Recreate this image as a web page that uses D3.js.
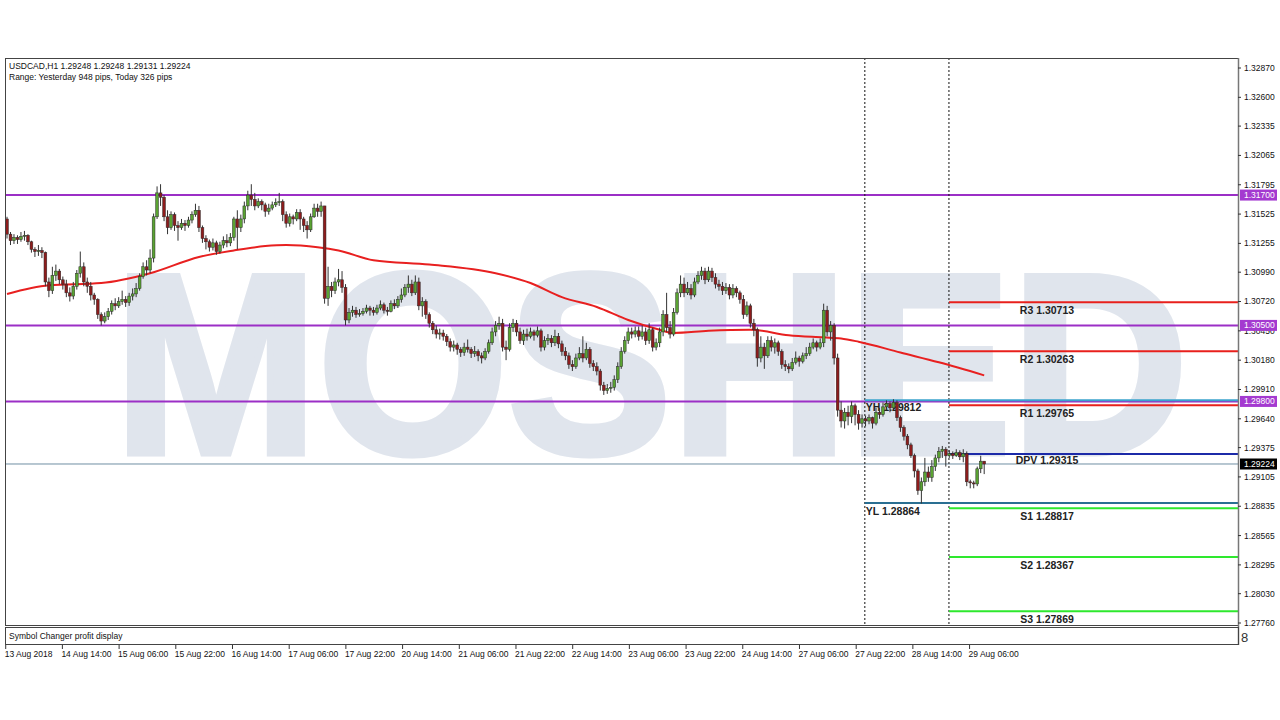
<!DOCTYPE html>
<html>
<head>
<meta charset="utf-8">
<script src="https://cdn.jsdelivr.net/npm/d3@7/dist/d3.min.js"></script>
<style>
  html, body { margin: 0; padding: 0; background: #fff; }
  svg { display: block; font-family: "Liberation Sans", Arial, sans-serif; }
</style>
</head>
<body>
<script>
// ---- data ----
var firstOpen = 1.3148;
var closes = [
  1.3134,1.3128,1.3131,1.3129,1.3132,1.3133,1.3127,1.3120,1.3118,1.3119,
  1.3117,1.3090,1.3082,1.3096,1.3100,1.3092,1.3088,1.3080,1.3077,1.3086,
  1.3098,1.3104,1.3090,1.3086,1.3078,1.3074,1.3060,1.3054,1.3058,1.3063,
  1.3070,1.3068,1.3072,1.3074,1.3071,1.3077,1.3079,1.3084,1.3095,1.3104,
  1.3101,1.3112,1.3150,1.3172,1.3168,1.3150,1.3140,1.3152,1.3142,1.3140,
  1.3144,1.3142,1.3147,1.3152,1.3156,1.3140,1.3130,1.3127,1.3122,1.3126,
  1.3118,1.3124,1.3128,1.3126,1.3131,1.3148,1.3140,1.3148,1.3160,1.3170,
  1.3166,1.3160,1.3164,1.3161,1.3155,1.3158,1.3161,1.3163,1.3164,1.3152,
  1.3144,1.3150,1.3148,1.3154,1.3148,1.3142,1.3138,1.3150,1.3158,1.3155,
  1.3160,1.3075,1.3086,1.3082,1.3090,1.3092,1.3085,1.3055,1.3062,1.3064,
  1.3060,1.3061,1.3063,1.3066,1.3064,1.3062,1.3066,1.3069,1.3064,1.3063,
  1.3070,1.3068,1.3074,1.3078,1.3085,1.3088,1.3080,1.3090,1.3068,1.3072,
  1.3060,1.3052,1.3046,1.3042,1.3043,1.3040,1.3035,1.3030,1.3032,1.3028,
  1.3025,1.3030,1.3028,1.3024,1.3026,1.3022,1.3020,1.3026,1.3034,1.3044,
  1.3050,1.3052,1.3030,1.3028,1.3048,1.3052,1.3044,1.3036,1.3042,1.3040,
  1.3044,1.3041,1.3045,1.3030,1.3036,1.3038,1.3034,1.3040,1.3033,1.3026,
  1.3022,1.3014,1.3012,1.3020,1.3024,1.3020,1.3028,1.3015,1.3012,1.3008,
  1.2995,1.2990,1.2992,1.2993,1.3000,1.3012,1.3026,1.3036,1.3044,1.3042,
  1.3045,1.3040,1.3044,1.3036,1.3046,1.3030,1.3034,1.3044,1.3060,1.3048,
  1.3042,1.3062,1.3080,1.3088,1.3080,1.3084,1.3078,1.3090,1.3096,1.3100,
  1.3092,1.3100,1.3094,1.3088,1.3086,1.3082,1.3085,1.3078,1.3084,1.3080,
  1.3074,1.3060,1.3068,1.3052,1.3046,1.3020,1.3030,1.3022,1.3036,1.3030,
  1.3034,1.3026,1.3014,1.3012,1.3010,1.3016,1.3020,1.3017,1.3022,1.3024,
  1.3030,1.3034,1.3030,1.3034,1.3064,1.3044,1.3050,1.3020,1.2972,1.2962,
  1.2970,1.2966,1.2976,1.2968,1.2960,1.2964,1.2962,1.2965,1.2960,1.2970,
  1.2968,1.2975,1.2978,1.2974,1.2979,1.2965,1.2956,1.2948,1.2940,1.2930,
  1.2916,1.2898,1.2906,1.2915,1.2910,1.2920,1.2928,1.2934,1.2936,1.2930,
  1.2932,1.2930,1.2933,1.2929,1.2932,1.2906,1.2905,1.2904,1.2918,1.2925,1.29224
];
var highs = [
  1.3150,1.3136,1.3134,1.3133,1.3136,1.3137,1.3134,1.3128,1.3122,1.3124,
  1.3122,1.3118,1.3094,1.3104,1.3106,1.3102,1.3095,1.3092,1.3085,1.3090,
  1.3101,1.3118,1.3108,1.3094,1.3090,1.3080,1.3075,1.3062,1.3062,1.3066,
  1.3073,1.3075,1.3076,1.3082,1.3077,1.3080,1.3084,1.3089,1.3098,1.3108,
  1.3110,1.3120,1.3153,1.3178,1.3180,1.3170,1.3156,1.3155,1.3154,1.3146,
  1.3148,1.3147,1.3150,1.3155,1.3162,1.3160,1.3142,1.3133,1.3129,1.3130,
  1.3128,1.3127,1.3132,1.3134,1.3135,1.3150,1.3156,1.3152,1.3164,1.3174,
  1.3180,1.3172,1.3167,1.3166,1.3163,1.3162,1.3164,1.3167,1.3172,1.3166,
  1.3155,1.3153,1.3152,1.3157,1.3157,1.3150,1.3146,1.3153,1.3162,1.3162,
  1.3164,1.3160,1.3104,1.3090,1.3094,1.3102,1.3100,1.3088,1.3066,1.3068,
  1.3067,1.3065,1.3066,1.3069,1.3068,1.3067,1.3069,1.3073,1.3071,1.3067,
  1.3073,1.3074,1.3077,1.3084,1.3088,1.3096,1.3092,1.3096,1.3094,1.3076,
  1.3074,1.3062,1.3054,1.3050,1.3047,1.3046,1.3042,1.3038,1.3036,1.3034,
  1.3030,1.3034,1.3037,1.3030,1.3031,1.3028,1.3025,1.3029,1.3037,1.3048,
  1.3054,1.3058,1.3056,1.3036,1.3052,1.3056,1.3055,1.3048,1.3046,1.3047,
  1.3048,1.3046,1.3049,1.3047,1.3040,1.3042,1.3041,1.3046,1.3043,1.3036,
  1.3030,1.3025,1.3018,1.3024,1.3030,1.3040,1.3034,1.3030,1.3018,1.3016,
  1.3010,1.2998,1.2996,1.2998,1.3004,1.3016,1.3030,1.3040,1.3048,1.3048,
  1.3049,1.3049,1.3050,1.3048,1.3052,1.3048,1.3038,1.3048,1.3064,1.3080,
  1.3054,1.3066,1.3084,1.3096,1.3094,1.3090,1.3088,1.3094,1.3100,1.3104,
  1.3103,1.3104,1.3103,1.3098,1.3092,1.3090,1.3089,1.3088,1.3088,1.3086,
  1.3082,1.3078,1.3072,1.3070,1.3056,1.3048,1.3040,1.3034,1.3040,1.3040,
  1.3038,1.3036,1.3028,1.3018,1.3015,1.3020,1.3026,1.3022,1.3025,1.3030,
  1.3034,1.3038,1.3036,1.3038,1.3070,1.3068,1.3054,1.3052,1.3024,1.2980,
  1.2974,1.2976,1.2980,1.2978,1.2972,1.2968,1.2967,1.2968,1.2966,1.2974,
  1.2974,1.2979,1.2981,1.2980,1.2982,1.2981,1.2967,1.2958,1.2950,1.2942,
  1.2932,1.2918,1.2910,1.2928,1.2920,1.2926,1.2931,1.2938,1.2939,1.2938,
  1.2935,1.2934,1.2936,1.2935,1.2936,1.2934,1.2908,1.2907,1.2920,1.2930,1.29248
];
var lows = [
  1.3130,1.3124,1.3125,1.3125,1.3127,1.3128,1.3124,1.3117,1.3113,1.3114,
  1.3112,1.3086,1.3076,1.3079,1.3091,1.3088,1.3083,1.3076,1.3072,1.3074,
  1.3083,1.3094,1.3086,1.3080,1.3073,1.3069,1.3056,1.3050,1.3052,1.3055,
  1.3060,1.3064,1.3066,1.3069,1.3067,1.3068,1.3073,1.3076,1.3082,1.3093,
  1.3096,1.3098,1.3108,1.3148,1.3160,1.3146,1.3134,1.3138,1.3137,1.3128,
  1.3138,1.3137,1.3140,1.3144,1.3150,1.3136,1.3126,1.3120,1.3118,1.3119,
  1.3115,1.3116,1.3121,1.3122,1.3123,1.3128,1.3120,1.3136,1.3144,1.3156,
  1.3160,1.3156,1.3158,1.3156,1.3150,1.3152,1.3156,1.3159,1.3160,1.3146,
  1.3140,1.3141,1.3143,1.3146,1.3138,1.3136,1.3130,1.3136,1.3149,1.3150,
  1.3150,1.3070,1.3068,1.3076,1.3079,1.3086,1.3080,1.3050,1.3052,1.3058,
  1.3057,1.3058,1.3059,1.3061,1.3059,1.3059,1.3060,1.3064,1.3061,1.3059,
  1.3062,1.3065,1.3066,1.3071,1.3076,1.3080,1.3077,1.3078,1.3064,1.3058,
  1.3056,1.3048,1.3042,1.3038,1.3037,1.3036,1.3031,1.3026,1.3026,1.3023,
  1.3021,1.3022,1.3025,1.3020,1.3021,1.3017,1.3015,1.3018,1.3024,1.3032,
  1.3040,1.3046,1.3026,1.3018,1.3026,1.3044,1.3040,1.3033,1.3032,1.3036,
  1.3038,1.3036,1.3039,1.3026,1.3027,1.3032,1.3030,1.3031,1.3029,1.3022,
  1.3018,1.3010,1.3008,1.3010,1.3018,1.3016,1.3018,1.3011,1.3008,1.3004,
  1.2990,1.2986,1.2987,1.2988,1.2990,1.2997,1.3010,1.3024,1.3033,1.3038,
  1.3039,1.3036,1.3037,1.3032,1.3033,1.3026,1.3027,1.3030,1.3040,1.3044,
  1.3038,1.3040,1.3060,1.3076,1.3076,1.3078,1.3074,1.3076,1.3088,1.3092,
  1.3088,1.3090,1.3090,1.3084,1.3082,1.3078,1.3079,1.3074,1.3075,1.3076,
  1.3070,1.3056,1.3058,1.3048,1.3040,1.3012,1.3016,1.3010,1.3020,1.3026,
  1.3024,1.3022,1.3010,1.3008,1.3006,1.3008,1.3014,1.3012,1.3015,1.3019,
  1.3022,1.3028,1.3026,1.3028,1.3030,1.3040,1.3036,1.3014,1.2966,1.2956,
  1.2955,1.2958,1.2960,1.2958,1.2954,1.2956,1.2957,1.2959,1.2955,1.2958,
  1.2964,1.2966,1.2972,1.2970,1.2972,1.2962,1.2952,1.2944,1.2936,1.2928,
  1.2910,1.2894,1.2886,1.2902,1.2906,1.2906,1.2916,1.2924,1.2928,1.2920,
  1.2928,1.2927,1.2929,1.2926,1.2924,1.2902,1.2900,1.2900,1.2902,1.2914,1.29131
];

// red moving average, sampled at bar indices
var maBars = [0, 12, 27, 41, 55, 65, 74, 80, 89, 95, 105, 121, 140, 150, 159, 169, 178, 187, 191, 201, 213, 224, 234, 239, 244, 256, 267, 280];
var maValues = [1.3079, 1.3087, 1.3089, 1.3098, 1.3113, 1.3119, 1.3123, 1.3124, 1.3122, 1.3119, 1.3110, 1.3106, 1.3098, 1.3089, 1.3076, 1.3067, 1.3055, 1.3046, 1.3043, 1.3045, 1.3046, 1.3041, 1.3039, 1.3038, 1.3035, 1.3025, 1.3016, 1.3004];

var yTickLabels = ["1.32870","1.32600","1.32335","1.32065","1.31795","1.31525","1.31255","1.30990","1.30720","1.30450",
  "1.30180","1.29910","1.29640","1.29375","1.29105","1.28835","1.28565","1.28295","1.28030","1.27760"];
var xTickLabels = ["13 Aug 2018","14 Aug 14:00","15 Aug 06:00","15 Aug 22:00","16 Aug 14:00","17 Aug 06:00","17 Aug 22:00",
  "20 Aug 14:00","21 Aug 06:00","21 Aug 22:00","22 Aug 14:00","23 Aug 06:00","23 Aug 22:00","24 Aug 14:00",
  "27 Aug 06:00","27 Aug 22:00","28 Aug 14:00","29 Aug 06:00"];
// bar positions of the time labels
var xTickBars = [0.06,16.3,32.55,48.8,65.04,81.29,97.53,113.78,130.03,146.27,162.52,178.76,195.01,211.25,227.5,243.75,259.99,276.24];

var levelLines = [1.31700, 1.30500, 1.29800];
var levelLabels = ["1.31700", "1.30500", "1.29800"];
var bidPrice = 1.29224;
var daySeparatorBars = [245.8, 269.9];

var pivotNames = ["R3", "R2", "R1", "DPV", "S1", "S2", "S3"];
var pivotValues = [1.30713, 1.30263, 1.29765, 1.29315, 1.28817, 1.28367, 1.27869];
var pivotColors = ["#e8201c", "#e8201c", "#e8201c", "#1c2aa8", "#2ee82e", "#2ee82e", "#2ee82e"];
var yesterdayHigh = 1.29812, yesterdayLow = 1.28864;

var headerLines = ["USDCAD,H1  1.29248 1.29248 1.29131 1.29224", "Range: Yesterday 948 pips, Today 326 pips"];

// ---- layout ----
var W = 1280, H = 720;
var plotLeft = 5, plotRight = 1238, plotTop = 58, plotBottom = 625;

var svg = d3.select("body").append("svg")
  .attr("width", W).attr("height", H);

var x = d3.scaleLinear().domain([0, 280]).range([7, 984.2]);
var y = d3.scaleLinear().domain([1.27760, 1.32870]).range([623, 68]);

var opens = [firstOpen].concat(closes.slice(0, -1));
var bars = closes.map(function (c, i) {
  return {i: i, o: opens[i], h: highs[i], l: lows[i], c: c};
});

var defs = svg.append("defs");
defs.append("clipPath").attr("id", "plot-clip")
  .append("rect")
  .attr("x", plotLeft).attr("y", plotTop)
  .attr("width", plotRight - plotLeft).attr("height", plotBottom - plotTop);

var plot = svg.append("g").attr("clip-path", "url(#plot-clip)");

// watermark
plot.append("text")
  .attr("x", 114).attr("y", 453)
  .attr("textLength", 1074)
  .attr("lengthAdjust", "spacingAndGlyphs")
  .attr("font-size", 256)
  .attr("font-weight", "bold")
  .attr("fill", "#e0e5ed")
  .attr("stroke", "#e0e5ed")
  .attr("stroke-width", 7)
  .attr("stroke-linejoin", "miter")
  .text("MOSHED");

// purple levels
plot.selectAll("line.level")
  .data(levelLines)
  .enter().append("line")
  .attr("class", "level")
  .attr("x1", plotLeft).attr("x2", plotRight)
  .attr("y1", function (d) { return y(d); })
  .attr("y2", function (d) { return y(d); })
  .attr("stroke", "#9b2fc6")
  .attr("stroke-width", 2);

// bid line
plot.append("line")
  .attr("x1", plotLeft).attr("x2", plotRight)
  .attr("y1", y(bidPrice)).attr("y2", y(bidPrice))
  .attr("stroke", "#6f8fa3")
  .attr("stroke-width", 1);

// day separators
plot.selectAll("line.sep")
  .data(daySeparatorBars)
  .enter().append("line")
  .attr("class", "sep")
  .attr("x1", function (d) { return x(d); })
  .attr("x2", function (d) { return x(d); })
  .attr("y1", plotTop).attr("y2", plotBottom)
  .attr("stroke", "#111")
  .attr("stroke-dasharray", "2,2")
  .attr("stroke-width", 1);

// yesterday high / low
var sepX0 = x(daySeparatorBars[0]), sepX1 = x(daySeparatorBars[1]);
plot.append("line")
  .attr("x1", sepX0).attr("x2", plotRight)
  .attr("y1", y(yesterdayHigh)).attr("y2", y(yesterdayHigh))
  .attr("stroke", "#3aa3cc").attr("stroke-width", 2);
plot.append("line")
  .attr("x1", sepX0).attr("x2", plotRight)
  .attr("y1", y(yesterdayLow)).attr("y2", y(yesterdayLow))
  .attr("stroke", "#2a6f92").attr("stroke-width", 2);

// pivots
plot.selectAll("line.pivot")
  .data(pivotValues)
  .enter().append("line")
  .attr("class", "pivot")
  .attr("x1", sepX1).attr("x2", plotRight)
  .attr("y1", function (d) { return y(d); })
  .attr("y2", function (d) { return y(d); })
  .attr("stroke", function (d, i) { return pivotColors[i]; })
  .attr("stroke-width", 2);

// moving average
var maLine = d3.line()
  .x(function (d) { return x(d[0]); })
  .y(function (d) { return y(d[1]); })
  .curve(d3.curveMonotoneX);
plot.append("path")
  .datum(maBars.map(function (b, i) { return [b, maValues[i]]; }))
  .attr("d", maLine)
  .attr("fill", "none")
  .attr("stroke", "#e82020")
  .attr("stroke-width", 2);

// text labels (drawn under the candles, like the terminal does)
plot.append("text")
  .attr("x", sepX0 + 1).attr("y", y(yesterdayHigh) + 11)
  .attr("font-size", 10.5).attr("font-weight", "bold").attr("fill", "#222")
  .text("YH " + yesterdayHigh.toFixed(5));
plot.append("text")
  .attr("x", sepX0 + 1).attr("y", y(yesterdayLow) + 12)
  .attr("font-size", 10.5).attr("font-weight", "bold").attr("fill", "#222")
  .text("YL " + yesterdayLow.toFixed(5));
plot.selectAll("text.pivot")
  .data(pivotValues)
  .enter().append("text")
  .attr("class", "pivot")
  .attr("x", 1047)
  .attr("y", function (d, i) { return y(d) + (pivotNames[i] === "DPV" ? 10 : 12); })
  .attr("text-anchor", "middle")
  .attr("font-size", 10.5).attr("font-weight", "bold").attr("fill", "#222")
  .text(function (d, i) { return pivotNames[i] + " " + d.toFixed(5); });

// candles
var candle = plot.selectAll("g.candle")
  .data(bars)
  .enter().append("g")
  .attr("class", "candle");

candle.append("line")
  .attr("x1", function (d) { return x(d.i); })
  .attr("x2", function (d) { return x(d.i); })
  .attr("y1", function (d) { return y(d.h); })
  .attr("y2", function (d) { return y(d.l); })
  .attr("stroke", "#333")
  .attr("stroke-width", 1);

candle.append("rect")
  .attr("x", function (d) { return x(d.i) - 1.4; })
  .attr("width", 2.8)
  .attr("y", function (d) { return y(Math.max(d.o, d.c)); })
  .attr("height", function (d) { return Math.max(1, Math.abs(y(d.o) - y(d.c))); })
  .attr("fill", function (d) { return d.c >= d.o ? "#5aa332" : "#8e1c1c"; })
  .attr("stroke", "#2a2a2a")
  .attr("stroke-width", 0.5);

// header
svg.selectAll("text.header")
  .data(headerLines)
  .enter().append("text")
  .attr("class", "header")
  .attr("x", 9)
  .attr("y", function (d, i) { return 69 + i * 11; })
  .attr("font-size", 8.5)
  .attr("fill", "#111")
  .text(function (d) { return d; });

// frames
svg.append("rect")
  .attr("x", plotLeft + 0.5).attr("y", plotTop + 0.5)
  .attr("width", plotRight - plotLeft).attr("height", plotBottom - plotTop)
  .attr("fill", "none").attr("stroke", "#444");
svg.append("line")
  .attr("x1", plotRight + 0.5).attr("x2", plotRight + 0.5)
  .attr("y1", plotTop).attr("y2", 645)
  .attr("stroke", "#777").attr("stroke-width", 1.5);

// indicator subwindow
svg.append("rect")
  .attr("x", plotLeft + 0.5).attr("y", 627.5)
  .attr("width", plotRight - plotLeft).attr("height", 17)
  .attr("fill", "none").attr("stroke", "#444");
svg.append("text")
  .attr("x", 9).attr("y", 639)
  .attr("font-size", 8.5).attr("fill", "#111")
  .text("Symbol Changer profit display");
svg.append("text")
  .attr("x", 1241).attr("y", 642)
  .attr("font-size", 13).attr("fill", "#333")
  .text("8");

// price axis
var yAxis = svg.append("g")
  .attr("transform", "translate(" + plotRight + ",0)");
yAxis.selectAll("g.tick")
  .data(yTickLabels)
  .enter().append("g")
  .attr("class", "tick")
  .attr("transform", function (d) { return "translate(0," + y(+d) + ")"; })
  .each(function (d) {
    var g = d3.select(this);
    g.append("line").attr("x1", 0).attr("x2", 3).attr("stroke", "#333");
    g.append("text").attr("x", 6).attr("dy", "0.35em")
      .attr("font-size", 8.5).attr("fill", "#111").text(d);
  });

// price tags
var tags = levelLabels.map(function (t, i) { return {text: t, v: levelLines[i], fill: "#a43ad0"}; })
  .concat([{text: bidPrice.toFixed(5), v: bidPrice, fill: "#000"}]);
var tag = yAxis.selectAll("g.tag")
  .data(tags)
  .enter().append("g")
  .attr("class", "tag")
  .attr("transform", function (d) { return "translate(0," + y(d.v) + ")"; });
tag.append("rect")
  .attr("x", 2).attr("y", -5.5).attr("width", 37).attr("height", 11)
  .attr("fill", function (d) { return d.fill; });
tag.append("text")
  .attr("x", 6).attr("dy", "0.35em")
  .attr("font-size", 8.5).attr("fill", "#fff")
  .text(function (d) { return d.text; });

// time axis
var xAxis = svg.append("g");
xAxis.selectAll("g.tick")
  .data(xTickBars)
  .enter().append("g")
  .attr("class", "tick")
  .attr("transform", function (d) { return "translate(" + (x(d) - 1.5) + ",645)"; })
  .each(function (d, i) {
    var g = d3.select(this);
    g.append("line").attr("y1", 0).attr("y2", 4).attr("stroke", "#333");
    g.append("text").attr("x", -1).attr("y", 12)
      .attr("font-size", 8.5).attr("fill", "#111").text(xTickLabels[i]);
  });
</script>
</body>
</html>
